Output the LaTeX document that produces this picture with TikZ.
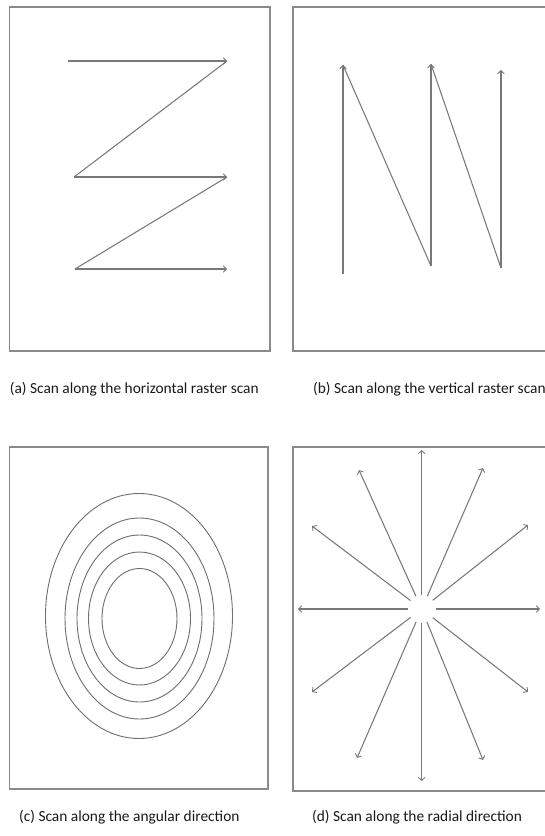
\documentclass[tikz,border=0pt]{standalone}
\usepackage{fontspec}
\setmainfont{Carlito}
\usetikzlibrary{arrows.meta,calc}
\definecolor{boxgray}{HTML}{8A8A8A}
\definecolor{linegray}{HTML}{787878}
\definecolor{ringgray}{HTML}{6E6E6E}
\begin{document}
\begin{tikzpicture}[x=1pt,y=-1pt,
  panel/.style={draw=boxgray,line width=1.3pt},
  scanline/.style={draw=linegray,line width=1.05pt},
  scanarrow/.style={scanline,-{Straight Barb[length=3pt,width=6.5pt,line width=0.9pt]}},
  ring/.style={draw=ringgray,line width=0.9pt},
  caption/.style={anchor=west,inner sep=0pt,font=\fontsize{15.4pt}{18pt}\selectfont,text=black!90}]
\useasboundingbox (0,0) rectangle (545,836);
\clip (0,0) rectangle (545,836);
\fill[white] (0,0) rectangle (545,836);

% ---------- panel (a)
\draw[panel] (9.5,7) rectangle (270,351);
\coordinate (a1) at (68,61);
\coordinate (a2) at (227,61);
\coordinate (a3) at (74,177);
\coordinate (a4) at (227,177);
\coordinate (a5) at (75,269);
\coordinate (a6) at (227,269);
\draw[scanarrow] (a1) -- (a2);
\draw[scanline] (a2) -- (a3);
\draw[scanarrow] (a3) -- (a4);
\draw[scanline] (a4) -- (a5);
\draw[scanarrow] (a5) -- (a6);
\node[caption] (capa) at (9.7,389) {(a) Scan along the horizontal raster scan};

% ---------- panel (b)
\draw[panel] (550,7) -- (293,7) -- (293,351) -- (550,351);
\coordinate (b1) at (343,274);
\coordinate (b2) at (343,65);
\coordinate (b3) at (431,266);
\coordinate (b4) at (431,64);
\coordinate (b5) at (501,268);
\coordinate (b6) at (501,70);
\draw[scanarrow] (b1) -- (b2);
\draw[scanline] (b2) -- (b3);
\draw[scanarrow] (b3) -- (b4);
\draw[scanline] (b4) -- (b5);
\draw[scanarrow] (b5) -- (b6);
\node[caption] (capb) at (313,389) {(b) Scan along the vertical raster scan};

% ---------- panel (c)
\draw[panel] (9.5,447) rectangle (268,789);
\coordinate (c0) at (139,616);
\coordinate (c1) at (139.5,618.5);
\draw[ring] (c0) ellipse [x radius=93.5pt, y radius=122.5pt];
\draw[ring] (c1) ellipse [x radius=74.5pt, y radius=100.5pt];
\draw[ring] (c1) ellipse [x radius=62.5pt, y radius=83.5pt];
\draw[ring] (c1) ellipse [x radius=51pt, y radius=66.5pt];
\draw[ring] (c1) ellipse [x radius=37.5pt, y radius=50pt];
\node[caption] (capc) at (19,817) {(c) Scan along the angular direction};

% ---------- panel (d)
\draw[panel] (550,447) -- (293,447) -- (293,791) -- (550,791);
\coordinate (O) at (421.7,609);
\coordinate (dN) at (421.7,450);
\coordinate (dS) at (421.7,781);
\coordinate (dW) at (298,609);
\coordinate (dE) at (540,609);
\coordinate (dNNW) at (359,470);
\coordinate (dNNE) at (483,468);
\coordinate (dWNW) at (312,526);
\coordinate (dENE) at (528,525);
\coordinate (dWSW) at (312,692);
\coordinate (dESE) at (528,692);
\coordinate (dSSW) at (357,758);
\coordinate (dSSE) at (483,760);
\foreach \t in {dN,dS,dW,dE,dNNW,dNNE,dWNW,dENE,dWSW,dESE,dSSW,dSSE}
  \draw[scanarrow] ($(O)!14pt!(\t)$) -- (\t);
\node[caption] (capd) at (312,817) {(d) Scan along the radial direction};
\end{tikzpicture}
\end{document}
